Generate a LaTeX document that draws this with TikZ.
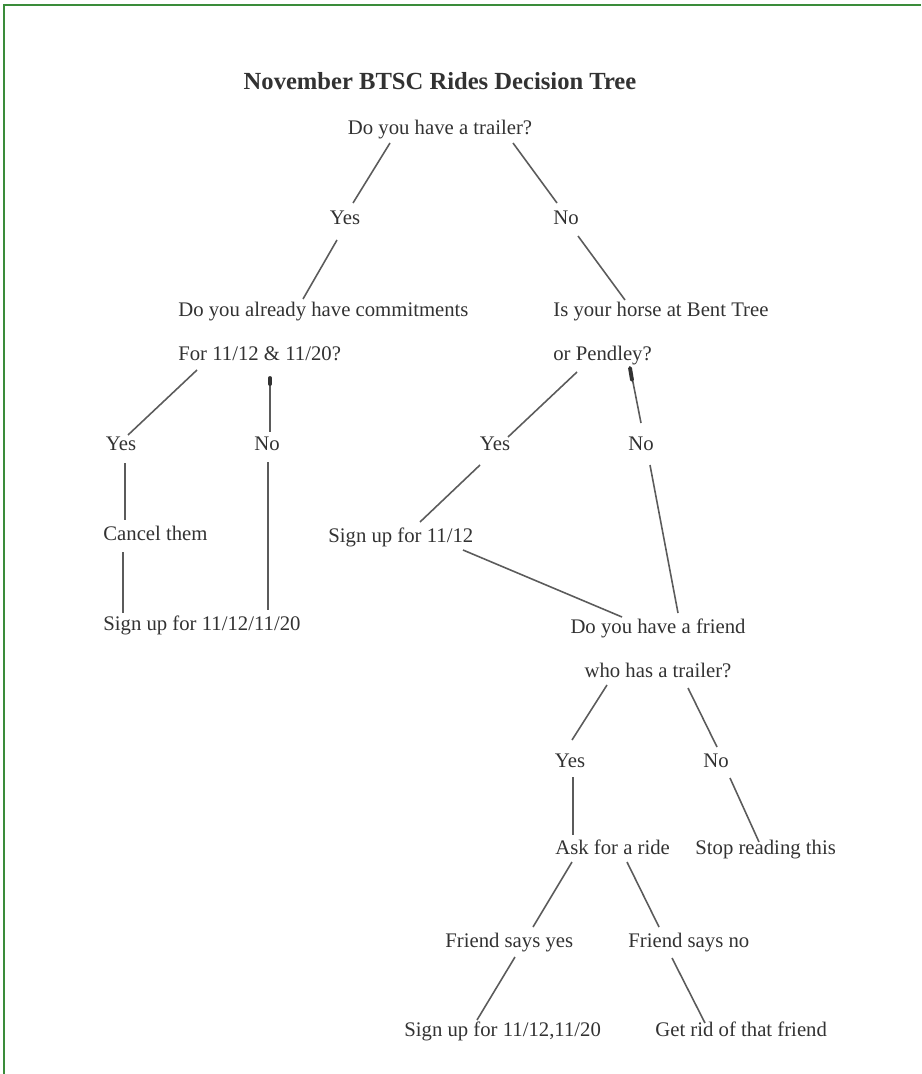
\documentclass[tikz,border=0pt]{standalone}
\usepackage{fontspec}
\setmainfont{Liberation Serif}
\usetikzlibrary{calc}
\definecolor{framegreen}{RGB}{58,140,58}
\definecolor{inkgray}{RGB}{50,50,50}

\begin{document}
\begin{tikzpicture}[x=0.02cm,y=-0.02cm,
    txt/.style={inner sep=0pt,text=inkgray,font=\fontsize{11.8}{25}\selectfont},
    txtl/.style={txt,anchor=base west},
    txtc/.style={txt,anchor=base},
    branch/.style={draw=inkgray!80!white,line width=0.9pt},
    blot/.style={draw=inkgray,line width=2.2pt,line cap=round}]
   \useasboundingbox (0,0) rectangle (921,1074);
   \draw[framegreen,line width=1.7pt] (4,1074) -- (4,5) -- (921,5);

   % title and first question
   \node[txtc,font=\fontsize{14}{16}\selectfont\bfseries] (title) at (440,90) {November BTSC Rides Decision Tree};
   \node[txtc] (q1) at (440,135) {Do you have a trailer?};
   \node[txtc] (y1) at (345,225) {Yes};
   \node[txtc] (n1) at (566,225) {No};

   % second level (base = last line)
   \node[txtl,align=left] (q2) at (178,360) {Do you already have commitments\\For 11/12 \& 11/20?};
   \node[txtl,align=left] (q3) at (553,360) {Is your horse at Bent Tree\\or Pendley?};
   \node[txtc] (y2) at (121,450) {Yes};
   \node[txtc] (n2) at (267,450) {No};
   \node[txtc] (y3) at (495,450) {Yes};
   \node[txtc] (n3) at (641,450) {No};
   \node[txtl] (cancel) at (103,540) {Cancel them};
   \node[txtl] (sign1) at (328,542) {Sign up for 11/12};
   \node[txtl] (sign2) at (103,630) {Sign up for 11/12/11/20};

   % friend branch
   \node[txtc,align=center] (q4) at (658,677) {Do you have a friend\\who has a trailer?};
   \node[txtc] (y4) at (570,767) {Yes};
   \node[txtc] (n4) at (716,767) {No};
   \node[txtl] (ask) at (555,854) {Ask for a ride};
   \node[txtl] (stop) at (695,854) {Stop reading this};
   \node[txtl] (fy) at (445,947) {Friend says yes};
   \node[txtl] (fn) at (628,947) {Friend says no};
   \node[txtl] (sign3) at (404,1036) {Sign up for 11/12,11/20};
   \node[txtl] (rid) at (655,1036) {Get rid of that friend};

   \draw[branch] ($(q1.base)+(-50,8)$) -- ($(y1.base)+(8,-22)$);
   \draw[branch] ($(q1.base)+(73,8)$) -- ($(n1.base)+(-9,-22)$);
   \draw[branch] ($(y1.base)+(-8,15)$) -- ($(q2.base west)+(125,-61)$);
   \draw[branch] ($(n1.base)+(12,11)$) -- ($(q3.base west)+(72,-60)$);
   \draw[branch] ($(q2.base west)+(19,10)$) -- ($(y2.base)+(7,-15)$);
   \draw[branch] ($(q2.base west)+(92,17)$) -- ($(n2.base)+(3,-18)$);
   \draw[blot] ($(q2.base west)+(92,18)$) -- ($(q2.base west)+(92,24)$);
   \draw[branch] ($(q3.base west)+(24,12)$) -- ($(y3.base)+(13,-13)$);
   \draw[branch] ($(q3.base west)+(77,7)$) -- ($(n3.base)+(0,-27)$);
   \draw[blot] ($(q3.base west)+(77,8)$) -- ($(q3.base west)+(79,20)$);
   \draw[branch] ($(y2.base)+(4,13)$) -- ($(cancel.base west)+(22,-20)$);
   \draw[branch] ($(cancel.base west)+(20,12)$) -- ($(sign2.base west)+(20,-17)$);
   \draw[branch] ($(n2.base)+(1,12)$) -- ($(sign2.base west)+(165,-20)$);
   \draw[branch] ($(y3.base)+(-15,15)$) -- ($(sign1.base west)+(92,-20)$);
   \draw[branch] ($(sign1.base west)+(135,8)$) -- ($(q4.base)+(-36,-60)$);
   \draw[branch] ($(n3.base)+(9,15)$) -- ($(q4.base)+(20,-64)$);
   \draw[branch] ($(q4.base)+(-51,8)$) -- ($(y4.base)+(2,-27)$);
   \draw[branch] ($(q4.base)+(30,11)$) -- ($(n4.base)+(1,-20)$);
   \draw[branch] ($(y4.base)+(3,10)$) -- ($(ask.base west)+(18,-19)$);
   \draw[branch] ($(n4.base)+(14,11)$) -- ($(stop.base west)+(64,-12)$);
   \draw[branch] ($(ask.base west)+(17,8)$) -- ($(fy.base west)+(88,-20)$);
   \draw[branch] ($(ask.base west)+(72,8)$) -- ($(fn.base west)+(31,-20)$);
   \draw[branch] ($(fy.base west)+(70,10)$) -- ($(sign3.base west)+(73,-16)$);
   \draw[branch] ($(fn.base west)+(44,11)$) -- ($(rid.base west)+(50,-13)$);
\end{tikzpicture}
\end{document}
